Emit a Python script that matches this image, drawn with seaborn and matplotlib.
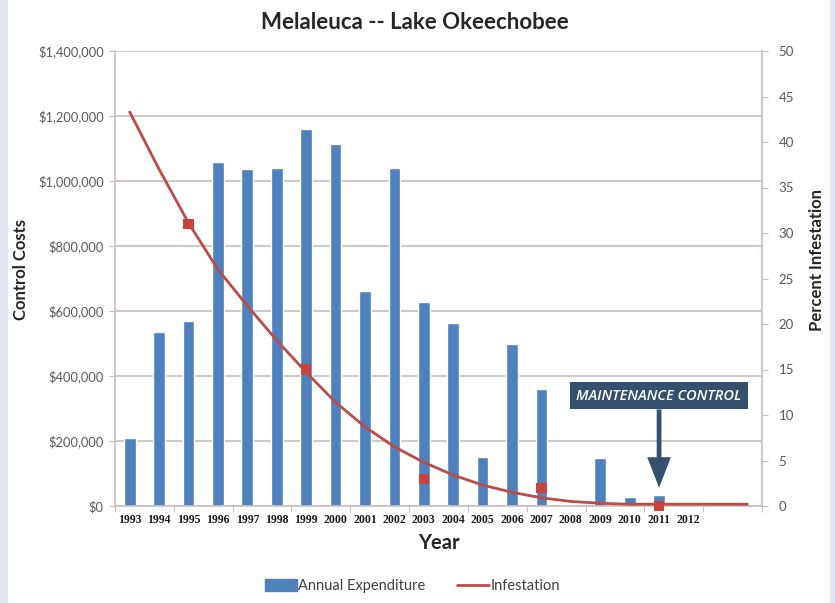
import numpy as np
import pandas as pd
import seaborn as sns
import matplotlib.pyplot as plt
from matplotlib.ticker import FuncFormatter, FixedLocator
from matplotlib.patches import Patch, Rectangle
from matplotlib.lines import Line2D

# data
years = [str(y) for y in range(1993, 2013)]
annual_expenditure = [210000, 534000, 569000, 1057000, 1036000, 1041000, 1159000,
                      1113000, 661000, 1041000, 629000, 562000, 152000, 500000,
                      359000, 3000, 149000, 29000, 35000, 12000]

# smooth trend line runs two years past the last labelled year
trend_years = list(range(1993, 2015))
trend_pct = [43.3, 37.0, 31.1, 26.0, 22.0, 18.2, 14.7, 11.4, 8.7, 6.5, 4.8,
             3.4, 2.3, 1.5, 0.9, 0.5, 0.3, 0.2, 0.2, 0.2, 0.2, 0.2]

# surveyed infestation points
survey_years = [1995, 1999, 2003, 2007, 2011]
survey_pct = [31, 15, 3, 2, 0]

bar_color = "#4F81BD"
line_color = "#BE4B48"
marker_color = "#C9423C"
grid_color = "#C9BDBD"
label_gray = "#595959"

sns.set_style("white")
plt.rcParams['font.family'] = ['Lato', 'DejaVu Sans']

fig = plt.figure(figsize=(8.35, 6.03), dpi=100)
fig.patch.set_facecolor("white")
fig.add_artist(Rectangle((0, 0), 7 / 835, 1, transform=fig.transFigure, color="#E4E7F3", zorder=0))
fig.add_artist(Rectangle((830 / 835, 0), 5 / 835, 1, transform=fig.transFigure, color="#E4E7F3", zorder=0))

ax = fig.add_axes([115 / 835, 1 - 506 / 603, 647 / 835, 455 / 603])

df_bar = pd.DataFrame({"year": years, "cost": annual_expenditure})
sns.barplot(data=df_bar, x="year", y="cost", color=bar_color, saturation=1,
            width=0.4, ax=ax, zorder=2)

ax2 = ax.twinx()
pos_trend = [y - 1993 for y in trend_years]
pos_survey = [y - 1993 for y in survey_years]
sns.lineplot(x=pos_trend, y=trend_pct, ax=ax2, color=line_color, lw=2, zorder=3)
sns.scatterplot(x=pos_survey, y=survey_pct, ax=ax2, marker="s", s=55,
                color=marker_color, edgecolor="none", zorder=4, legend=False,
                clip_on=False)

for a in (ax, ax2):
    if a.get_legend() is not None:
        a.get_legend().remove()

ax.set_xlim(-0.5, 21.5)
ax2.set_xlim(-0.5, 21.5)
ax.set_ylim(0, 1400000)
ax2.set_ylim(0, 50)

# left axis
ax.set_yticks(np.arange(0, 1400001, 200000))
ax.yaxis.set_major_formatter(FuncFormatter(lambda v, p: f"${v:,.0f}"))
ax.yaxis.grid(True, color=grid_color, lw=1.2)
ax.set_axisbelow(True)
ax.tick_params(axis="y", which="major", left=True, length=4, width=0.8, color=grid_color,
               labelsize=9.3, labelcolor=label_gray, pad=4)
for s in ["top", "right"]:
    ax.spines[s].set_visible(False)
for s in ["left", "bottom"]:
    ax.spines[s].set_color(grid_color)
    ax.spines[s].set_linewidth(1.2)

# x axis
ax.set_xticks(range(len(years)))
ax.set_xticklabels(years, fontfamily="Liberation Serif", fontweight="bold", fontsize=8.5)
ax.xaxis.set_minor_locator(FixedLocator(np.arange(-0.5, 21.6, 2)))
ax.tick_params(axis="x", which="major", length=0, pad=6, labelcolor="#1a1a1a")
ax.tick_params(axis="x", which="minor", bottom=True, length=4, width=0.8, color=grid_color)

ax.set_xlabel("Year", fontsize=14.5, fontweight="bold", labelpad=5)
ax.set_ylabel("Control Costs", fontsize=12, fontweight="bold")
ax.yaxis.set_label_coords(-0.133, 0.52)

# right axis
ax2.set_yticks(np.arange(0, 51, 5))
ax2.tick_params(axis="y", right=True, length=4, width=0.8, color=grid_color,
                labelsize=9.5, labelcolor=label_gray, pad=8)
for s in ["top", "left", "bottom"]:
    ax2.spines[s].set_visible(False)
ax2.spines["right"].set_color(grid_color)
ax2.spines["right"].set_linewidth(1.2)
ax2.set_ylabel("Percent Infestation", fontsize=12, fontweight="bold")
ax2.yaxis.set_label_coords(1.072, 0.54)

# annotation box with arrow
ax2.annotate("MAINTENANCE CONTROL", xy=(18, 2.0), xytext=(18, 12.1),
             ha="center", va="center", color="white", fontsize=10.5,
             fontfamily="Open Sans", fontstyle="italic", fontweight="semibold",
             bbox=dict(boxstyle="square,pad=0.45", fc="#34506F", ec="none"),
             arrowprops=dict(arrowstyle="simple,head_width=1.7,head_length=2.2,tail_width=0.34",
                             mutation_scale=10, fc="#34506F", ec="none",
                             shrinkA=0, shrinkB=0),
             zorder=6)

fig.suptitle("Melaleuca -- Lake Okeechobee", x=0.497, y=0.963, fontsize=16,
             fontweight="bold", va="center")

handles = [Patch(color=bar_color, label="Annual Expenditure"),
           Line2D([0], [0], color=line_color, lw=2, label="Infestation")]
fig.legend(handles=handles, loc="center", bbox_to_anchor=(0.494, 0.028), ncol=2,
           frameon=False, fontsize=10.5, handlelength=2.2, handleheight=0.8,
           handletextpad=0.1, columnspacing=2.2, labelcolor="#404040")

fig.savefig("out.png", dpi=100, facecolor=fig.get_facecolor())
